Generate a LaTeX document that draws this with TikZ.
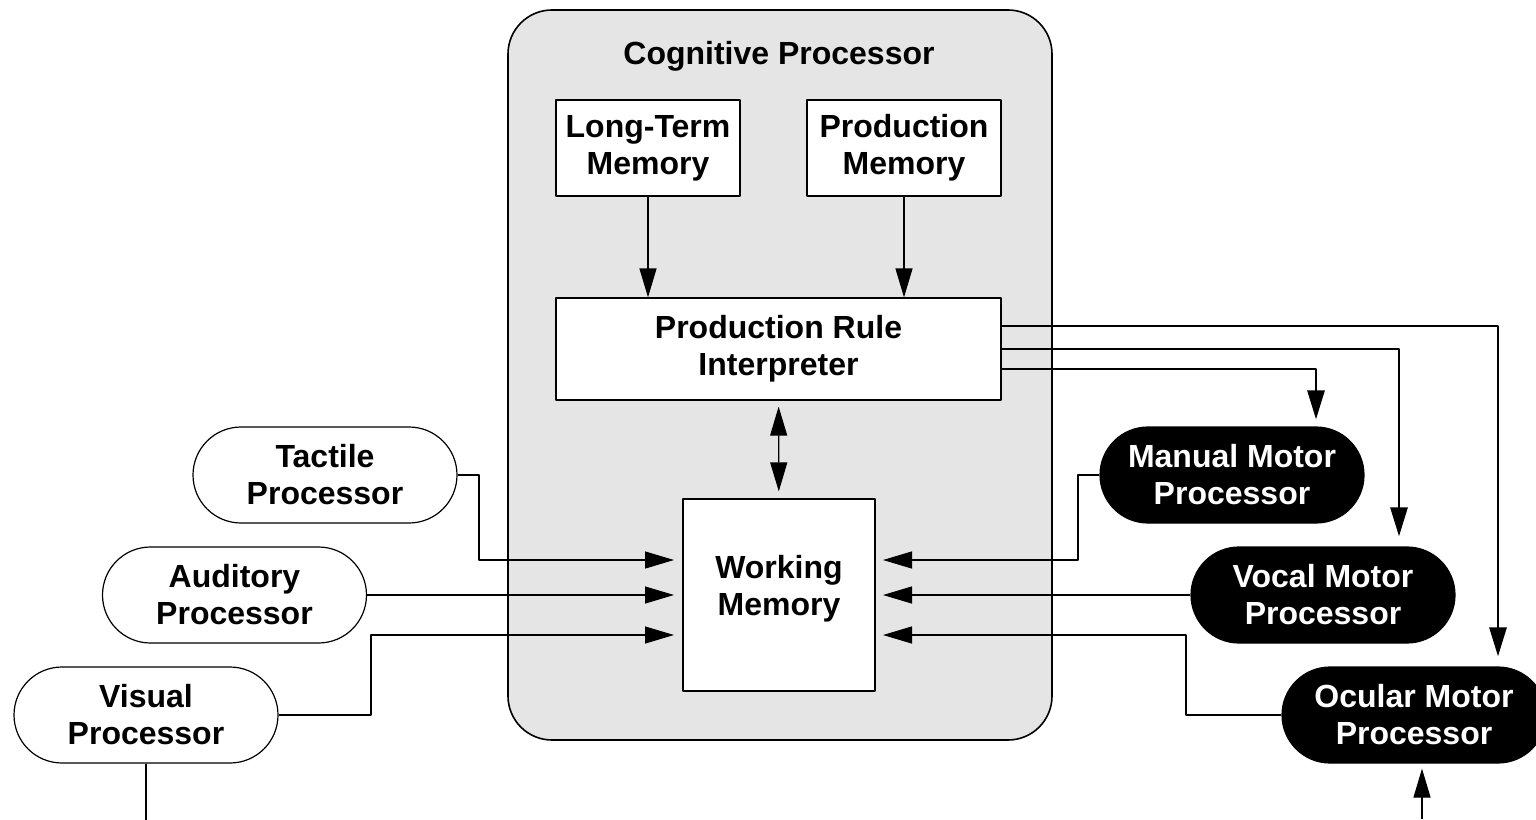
\documentclass[tikz,border=0pt]{standalone}
\usepackage{fontspec}
\setmainfont{Liberation Sans}
\usetikzlibrary{arrows.meta,shapes.misc}
\begin{document}
\begin{tikzpicture}[x=.5pt, y=-.5pt, font=\fontsize{16}{18.5}\selectfont\bfseries, line join=round,
	>={Triangle[length=14.5pt,width=8.5pt]},
	box/.style={draw, line width=.6pt, fill=white, align=center, inner sep=0pt},
	sense/.style={box, rounded rectangle, minimum width=132pt, minimum height=48pt},
	motor/.style={sense, fill=black, text=white},
	wire/.style={line width=.6pt},
	bus/.style={line width=1.4pt}]
	\useasboundingbox (0,0) rectangle (1536,819);
	\clip (0,0) rectangle (1536,819);
	% cognitive processor
	\draw[line width=.8pt, fill=black!10, rounded corners=22pt] (508,10) rectangle (1052,740);
	\node (cogtitle) at (779,56) {Cognitive Processor};
	\node[box, minimum width=92pt, minimum height=48pt] (ltm) at (648,148) {Long-Term\\Memory};
	\node[box, minimum width=97pt, minimum height=48pt] (pm) at (904,148) {Production\\Memory};
	\node[box, minimum width=222.5pt, minimum height=51pt] (pri) at (778.5,349) {Production Rule\\Interpreter};
	\node[box, minimum width=96pt, minimum height=96pt, text depth=10pt] (wm) at (779,595) {Working\\Memory};
	% processors
	\foreach \n/\x/\y/\t in {tac/325/475/Tactile, aud/234.5/595/Auditory, vis/146/715/Visual}
	\node[sense] (\n) at (\x,\y) {\t\\Processor};
	\foreach \n/\x/\y/\t in {man/1232/475/Manual Motor, voc/1323/595/Vocal Motor, ocu/1414/715/Ocular Motor}
	\node[motor] (\n) at (\x,\y) {\t\\Processor};
	\path
	(674,560) coordinate (wmL1)
	(674,595) coordinate (wmL2)
	(674,635) coordinate (wmL3)
	(883,560) coordinate (wmR1)
	(883,595) coordinate (wmR2)
	(883,635) coordinate (wmR3)
	(479,0) coordinate (tacX)
	(371,0) coordinate (visX)
	(1078,0) coordinate (manX)
	(1186,0) coordinate (ocuX)
	(1316,0) coordinate (manIn)
	(1399,0) coordinate (vocIn)
	(1498,0) coordinate (ocuTop)
	(1422,819) coordinate (ocuBot)
	;
	% inside the cognitive processor
	\draw[wire, ->] (ltm) -- (ltm |- pri.north);
	\draw[wire, ->] (pm) -- (pm |- pri.north);
	\draw[wire, <->, shorten <=3pt, shorten >=3.5pt] (pri) -- (wm);
	% perceptual input
	\draw[wire, ->] (tac.east) -| (tacX |- wmL1) -- (wmL1);
	\draw[wire, ->] (aud.east) -- (wmL2);
	\draw[wire, ->] (vis.east) -| (visX |- wmL3) -- (wmL3);
	\draw[wire] (vis.south) -- ++(0,80);
	% motor feedback
	\draw[wire, ->] (man.west) -| (manX |- wmR1) -- (wmR1);
	\draw[wire, ->] (voc.west) -- (wmR2);
	\draw[wire, ->] (ocu.west) -| (ocuX |- wmR3) -- (wmR3);
	\draw[wire, ->, shorten >=2.5pt] (ocuBot) -- (ocuBot |- ocu.south);
	% motor commands
	\draw[bus, ->, shorten >=5pt] ([yshift=11.5pt]pri.east) -| (ocuTop |- ocu.north);
	\draw[bus, ->, shorten >=5pt] (pri.east) -| (vocIn |- voc.north);
	\draw[bus, ->, shorten >=3.5pt] ([yshift=-10pt]pri.east) -| (manIn |- man.north);
\end{tikzpicture}
\end{document}
